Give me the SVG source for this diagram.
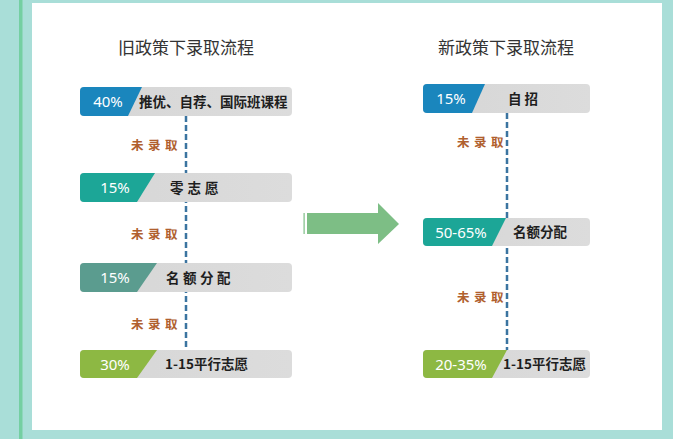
<svg xmlns="http://www.w3.org/2000/svg" width="673" height="439" viewBox="0 0 673 439">
<defs>
<style>
.title{font-family:"Noto Sans CJK SC","Noto Sans",sans-serif;font-size:17px;fill:#333;text-anchor:middle}
.pct{font-family:"Noto Sans","Liberation Sans",sans-serif;font-size:15px;fill:#fff;text-anchor:middle}
.lbl{font-family:"Noto Sans CJK SC","Noto Sans",sans-serif;font-size:13.5px;font-weight:bold;fill:#1e1e1e}
.no{font-family:"Noto Sans CJK SC",sans-serif;font-size:12.5px;font-weight:bold;fill:#b0602e;letter-spacing:4.5px}
.dash{stroke:#3b74a0;stroke-width:2.5;stroke-dasharray:6 3;fill:none}
</style>
<linearGradient id="gray" x1="0" y1="0" x2="1" y2="0">
<stop offset="0" stop-color="#d6d6d6"/>
<stop offset="1" stop-color="#dcdcdc"/>
</linearGradient>
</defs>
<rect width="673" height="439" fill="#a9ded8"/>
<rect x="19" y="0" width="3.5" height="439" fill="#74cfa2"/>
<rect x="32" y="3" width="630" height="427" fill="#ffffff"/>
<text class="title" x="186" y="54">旧政策下录取流程</text>
<text class="title" x="506" y="54">新政策下录取流程</text>
<g id="connectors">
<line class="dash" x1="186" y1="116" x2="186" y2="350"/>
<line class="dash" x1="507" y1="113" x2="507" y2="350"/>
<text class="no" x="131" y="150">未录取</text>
<text class="no" x="131" y="239">未录取</text>
<text class="no" x="131" y="329">未录取</text>
<text class="no" x="457" y="147">未录取</text>
<text class="no" x="457" y="302">未录取</text>
</g>
<g id="arrow">
<rect x="303.5" y="213" width="1.2" height="21" fill="#7dbe85"/>
<path d="M307 213 H378 V203 L399 224 L378 244 V234 H307 Z" fill="#7dbe85"/>
</g>
<g id="old1">
<rect x="80" y="87" width="212" height="29" rx="4" fill="url(#gray)"/>
<path d="M84 87 H142 L128 116 H84 Q80 116 80 112 V91 Q80 87 84 87 Z" fill="#1a86bd"/>
<text class="pct" x="108" y="107">40%</text>
<text class="lbl" x="139" y="106.5">推优、自荐、国际班课程</text>
</g>
<g id="old2">
<rect x="80" y="173" width="212" height="29" rx="4" fill="url(#gray)"/>
<path d="M84 173 H155 L137 202 H84 Q80 202 80 198 V177 Q80 173 84 173 Z" fill="#1ca697"/>
<text class="pct" x="115" y="193">15%</text>
<text class="lbl" x="170" y="192.5" style="letter-spacing:4px">零志愿</text>
</g>
<g id="old3">
<rect x="80" y="263" width="212" height="29" rx="4" fill="url(#gray)"/>
<path d="M84 263 H157 L137 292 H84 Q80 292 80 288 V267 Q80 263 84 263 Z" fill="#5b9c8f"/>
<text class="pct" x="115" y="283">15%</text>
<text class="lbl" x="166" y="282.5" style="letter-spacing:3.5px">名额分配</text>
</g>
<g id="old4">
<rect x="80" y="350" width="212" height="28" rx="4" fill="url(#gray)"/>
<path d="M84 350 H157 L137 378 H84 Q80 378 80 374 V354 Q80 350 84 350 Z" fill="#8db843"/>
<text class="pct" x="115" y="369.5">30%</text>
<text class="lbl" x="165" y="369">1-15平行志愿</text>
</g>
<g id="new1">
<rect x="423" y="84" width="167" height="29" rx="4" fill="url(#gray)"/>
<path d="M427 84 H485 L472 113 H427 Q423 113 423 109 V88 Q423 84 427 84 Z" fill="#1a86bd"/>
<text class="pct" x="451" y="104">15%</text>
<text class="lbl" x="508" y="103.5" style="letter-spacing:3px">自招</text>
</g>
<g id="new2">
<rect x="423" y="218" width="167" height="28" rx="4" fill="url(#gray)"/>
<path d="M427 218 H506 L492 246 H427 Q423 246 423 242 V222 Q423 218 427 218 Z" fill="#1ca697"/>
<text class="pct" x="461" y="237.5">50-65%</text>
<text class="lbl" x="513" y="237">名额分配</text>
</g>
<g id="new3">
<rect x="423" y="350" width="167" height="28" rx="4" fill="url(#gray)"/>
<path d="M427 350 H507 L492 378 H427 Q423 378 423 374 V354 Q423 350 427 350 Z" fill="#8db843"/>
<text class="pct" x="461" y="369.5">20-35%</text>
<text class="lbl" x="503" y="369">1-15平行志愿</text>
</g>
</svg>
